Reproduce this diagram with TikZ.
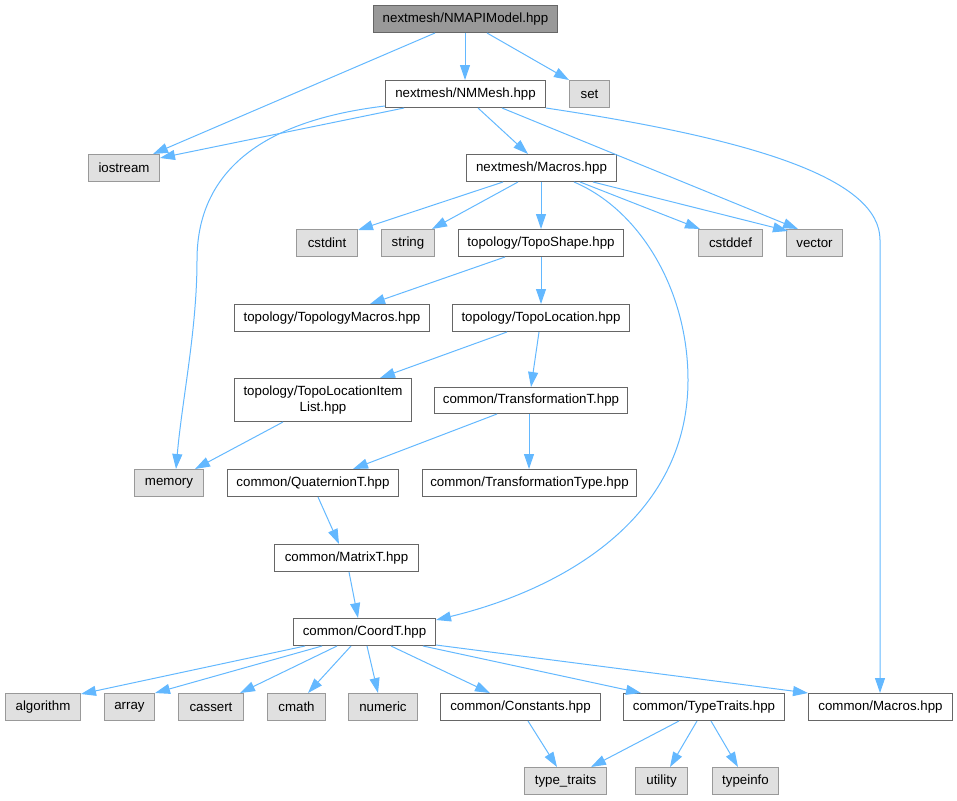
\documentclass[tikz,border=0pt]{standalone}
\usepackage{fontspec}
\setmainfont{Liberation Sans}
\usetikzlibrary{arrows.meta}
\definecolor{edgec}{HTML}{63B8FF}
\definecolor{intborder}{HTML}{666666}
\definecolor{extfill}{HTML}{E0E0E0}
\definecolor{extborder}{HTML}{999999}
\definecolor{rootfill}{HTML}{999999}
\tikzset{
  basebox/.style={anchor=north west, inner sep=0pt, line width=1pt, align=center},
  intn/.style={basebox, draw=intborder, fill=white},
  extn/.style={basebox, draw=extborder, fill=extfill},
  rootn/.style={basebox, draw=intborder, fill=rootfill},
  dep/.style={draw=edgec, line width=1pt, -{Triangle[length=15pt,width=10pt]}},
}
\newcommand{\bx}[7]{\node[#1, minimum width=#5-#3, minimum height=#6-#4] (#2) at (#3,#4) {#7};}
\begin{document}
\begin{tikzpicture}[font=\fontsize{13.3}{16}\selectfont]
\begin{scope}[x=1pt,y=-1pt]
\useasboundingbox (0,0) rectangle (957,800);
% nodes: style, name, left, top, right, bottom, text
\bx{rootn}{root}{373}{5}{557}{32}{nextmesh/NMAPIModel.hpp}
\bx{intn}{nmmesh}{385}{80}{545}{107}{nextmesh/NMMesh.hpp}
\bx{extn}{set}{569}{80}{609}{107}{set}
\bx{extn}{iostream}{88}{154}{159}{181}{iostream}
\bx{intn}{nmmacros}{466}{154}{616}{181}{nextmesh/Macros.hpp}
\bx{extn}{cstdint}{296}{229}{357}{256}{cstdint}
\bx{extn}{string}{381}{229}{434}{256}{string}
\bx{intn}{toposhape}{458}{229}{623}{256}{topology/TopoShape.hpp}
\bx{extn}{cstddef}{698}{229}{762}{256}{cstddef}
\bx{extn}{vector}{786}{229}{842}{256}{vector}
\bx{intn}{topomacros}{234}{304}{429}{331}{topology/TopologyMacros.hpp}
\bx{intn}{topolocation}{452}{304}{629}{331}{topology/TopoLocation.hpp}
\bx{intn}{itemlist}{234}{378}{411}{421}{topology/TopoLocationItem\\List.hpp}
\bx{intn}{transT}{434}{387}{627}{413}{common/TransformationT.hpp}
\bx{extn}{memory}{134}{469}{203}{496}{memory}
\bx{intn}{quaternion}{227}{469}{398}{496}{common/QuaternionT.hpp}
\bx{intn}{transType}{422}{469}{636}{496}{common/TransformationType.hpp}
\bx{intn}{matrix}{274}{544}{418}{571}{common/MatrixT.hpp}
\bx{intn}{coord}{293}{618}{435}{645}{common/CoordT.hpp}
\bx{extn}{algorithm}{5}{693}{80}{720}{algorithm}
\bx{extn}{array}{104}{693}{154}{720}{array}
\bx{extn}{cassert}{178}{693}{243}{720}{cassert}
\bx{extn}{cmath}{267}{693}{325}{720}{cmath}
\bx{extn}{numeric}{348}{693}{417}{720}{numeric}
\bx{intn}{constants}{440}{693}{600}{720}{common/Constants.hpp}
\bx{intn}{typetraits}{623}{693}{784}{720}{common/TypeTraits.hpp}
\bx{intn}{cmacros}{808}{693}{952}{720}{common/Macros.hpp}
\bx{extn}{typetr}{524}{767}{606}{794}{type\_traits}
\bx{extn}{utility}{635}{767}{687}{794}{utility}
\bx{extn}{typeinfo}{712}{767}{778}{794}{typeinfo}
% edges
\draw[dep] ([xshift=62pt]root.south west) -- ([xshift=65pt]iostream.north west);
\draw[dep] ([xshift=92pt]root.south west) -- ([xshift=80pt]nmmesh.north west);
\draw[dep] ([xshift=114pt]root.south west) -- (set.north west);
\draw[dep] ([xshift=19pt]nmmesh.south west) -- ([yshift=-4pt]iostream.north east);
\draw[dep] ([yshift=2pt]nmmesh.south west) .. controls (250,122) and (197,180) .. (197,260)
   .. controls (197,330) and (182,400) .. ([xshift=42pt]memory.north west);
\draw[dep] ([xshift=93pt]nmmesh.south west) -- ([xshift=62pt]nmmacros.north west);
\draw[dep] ([xshift=117pt]nmmesh.south west) -- ([xshift=12pt]vector.north west);
\draw[dep] (nmmesh.south east) .. controls (760,140) and (880,180) .. (880,240) -- ([xshift=72pt]cmacros.north west);
\draw[dep] ([xshift=37pt]nmmacros.south west) -- ([yshift=-1pt]cstdint.north east);
\draw[dep] ([xshift=52pt]nmmacros.south west) -- ([xshift=51pt]string.north west);
\draw[dep] ([xshift=75pt]nmmacros.south west) -- ([xshift=83pt]toposhape.north west);
\draw[dep] ([xshift=114pt]nmmacros.south west) -- ([xshift=2pt]cstddef.north west);
\draw[dep] ([xshift=127pt]nmmacros.south west) -- ([xshift=2pt,yshift=-2pt]vector.north west);
\draw[dep] ([xshift=108pt]nmmacros.south west) .. controls (640,210) and (688,290) .. (688,380)
   .. controls (688,520) and (560,590) .. ([yshift=-2pt]coord.north east);
\draw[dep] ([xshift=47pt]toposhape.south west) -- ([xshift=136pt]topomacros.north west);
\draw[dep] ([xshift=83pt]toposhape.south west) -- ([xshift=89pt]topolocation.north west);
\draw[dep] ([xshift=55pt]topolocation.south west) -- ([xshift=146pt]itemlist.north west);
\draw[dep] ([xshift=87pt]topolocation.south west) -- ([xshift=97pt]transT.north west);
\draw[dep] ([xshift=49pt]itemlist.south west) -- ([xshift=61pt]memory.north west);
\draw[dep] ([xshift=63pt]transT.south west) -- ([xshift=126pt]quaternion.north west);
\draw[dep] ([xshift=95pt]transT.south west) -- ([xshift=107pt]transType.north west);
\draw[dep] ([xshift=91pt]quaternion.south west) -- ([xshift=65pt]matrix.north west);
\draw[dep] ([xshift=75pt]matrix.south west) -- ([xshift=65pt]coord.north west);
\draw[dep] ([xshift=12pt]coord.south west) -- ([yshift=-1pt]algorithm.north east);
\draw[dep] ([xshift=29pt]coord.south west) -- (array.north east);
\draw[dep] ([xshift=44pt]coord.south west) -- ([xshift=62pt]cassert.north west);
\draw[dep] ([xshift=58pt]coord.south west) -- ([xshift=41pt]cmath.north west);
\draw[dep] ([xshift=74pt]coord.south west) -- ([xshift=30pt]numeric.north west);
\draw[dep] ([xshift=98pt]coord.south west) -- ([xshift=50pt]constants.north west);
\draw[dep] ([xshift=130pt]coord.south west) -- ([xshift=18pt]typetraits.north west);
\draw[dep] ([yshift=1pt]coord.south east) -- (cmacros.north west);
\draw[dep] ([xshift=88pt]constants.south west) -- ([xshift=33pt]typetr.north west);
\draw[dep] ([xshift=56pt]typetraits.south west) -- ([xshift=67pt]typetr.north west);
\draw[dep] ([xshift=74pt]typetraits.south west) -- ([xshift=35pt]utility.north west);
\draw[dep] ([xshift=88pt]typetraits.south west) -- ([xshift=26pt]typeinfo.north west);
\end{scope}
\end{tikzpicture}
\end{document}
